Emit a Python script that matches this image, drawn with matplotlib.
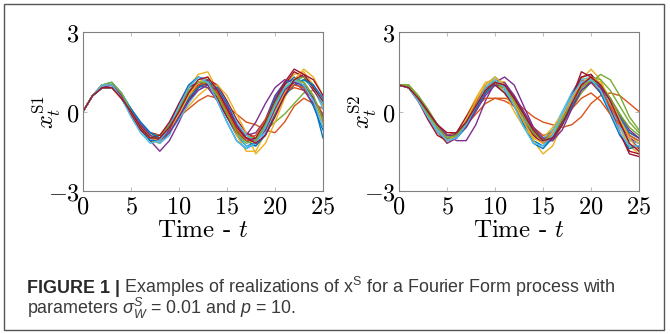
import matplotlib
matplotlib.use("Agg")
import matplotlib.pyplot as plt
from matplotlib.patches import Rectangle

plt.rcParams['mathtext.fontset'] = 'cm'
plt.rcParams['mathtext.rm'] = 'Liberation Sans'
plt.rcParams['mathtext.it'] = 'Liberation Sans:italic'

# MATLAB default line colours
colors = ["#0072BD", "#D95319", "#EDB120", "#7E2F8E", "#77AC30", "#4DBEEE", "#A2142F"]

time = list(range(26))

# realizations of x^S1
s1 = [
    [0, .6, 1.0, 1.1, .7, .1, -.5, -1.0, -1.2, -.8, .1, .9, 1.3, 1.2, .6, -.2, -.9, -1.3, -1.2, -.5, .3, 1.0, 1.3, 1.1, .4, -1.0],
    [0, .6, .9, .9, .5, 0, -.5, -.8, -.9, -.6, -.2, .1, .4, .6, .5, .2, -.1, -.4, -.5, -.7, -.8, -.4, .2, .5, .3, .1],
    [0, .6, .9, 1.0, .5, -.1, -.7, -1.1, -1.2, -.7, .2, .9, 1.4, 1.5, .8, -.1, -.9, -1.5, -1.5, -.8, .2, 1.0, 1.4, 1.5, 1.0, .2],
    [0, .6, .9, .9, .6, 0, -.6, -1.1, -1.5, -1.1, -.4, .4, 1.0, 1.1, .7, .1, -.6, -.9, -.8, -.3, .6, 1.1, 1.2, .9, .5, -.3],
    [0, .6, 1.0, 1.0, .6, 0, -.5, -.9, -1.0, -.6, 0, .5, .9, 1.0, .7, .1, -.5, -.9, -1.0, -.7, -.4, -.1, .3, .7, .8, .4],
    [0, .6, 1.0, 1.1, .7, .1, -.5, -1.0, -1.2, -.9, -.1, .7, 1.1, 1.2, .8, 0, -.8, -1.3, -1.3, -.8, 0, .8, 1.2, 1.3, .9, .1],
    [0, .6, .9, .9, .5, 0, -.5, -.8, -.9, -.7, -.2, .4, .9, 1.2, 1.0, .4, -.3, -.8, -1.0, -.7, .2, 1.0, 1.5, 1.3, .8, .3],
    [0, .6, 1.0, 1.0, .6, -.1, -.7, -1.1, -1.1, -.5, .3, 1.0, 1.3, 1.1, .4, -.4, -1.1, -1.4, -1.2, -.4, .5, 1.1, 1.2, .9, .2, -.7],
    [0, .6, .9, .9, .5, 0, -.5, -.9, -1.0, -.6, .1, .6, 1.0, 1.0, .5, -.1, -.7, -1.0, -.9, -.3, .3, .7, .9, .8, .5, -.2],
    [0, .6, .9, .9, .5, -.1, -.6, -.9, -.9, -.6, -.2, .2, .6, .9, 1.0, .6, -.1, -.8, -1.6, -1.2, -.4, .5, 1.2, 1.6, 1.3, .6],
    [0, .6, 1.0, 1.0, .6, 0, -.6, -1.0, -1.1, -.7, .1, .8, 1.0, .9, .4, -.2, -.8, -.9, -.4, .3, .9, 1.2, 1.1, .8, .3, -.4],
    [0, .6, .9, 1.0, .6, 0, -.6, -.9, -.9, -.5, .1, .7, 1.1, 1.1, .6, -.1, -.7, -1.0, -1.0, -.6, .1, .8, 1.2, 1.3, 1.0, .3],
    [0, .6, .9, 1.0, .7, .1, -.4, -.8, -1.0, -.8, -.3, .3, .8, 1.0, .9, .3, -.4, -.9, -1.1, -.8, -.1, .6, 1.1, 1.2, .9, .3],
    [0, .6, 1.0, 1.0, .5, -.1, -.7, -1.0, -.9, -.4, .3, .9, 1.1, 1.0, .5, -.2, -.8, -1.1, -1.0, -.4, .4, 1.1, 1.6, 1.4, .9, .4],
    [0, .6, .9, .9, .6, .1, -.4, -.8, -1.0, -.8, -.2, .5, .9, 1.1, .9, .3, -.5, -1.1, -1.3, -.9, -.1, .6, 1.0, 1.2, 1.0, .5],
    [0, .6, 1.0, 1.0, .6, 0, -.6, -1.0, -1.0, -.6, 0, .6, 1.0, 1.1, .7, 0, -.7, -1.1, -1.1, -.6, .1, .7, 1.0, .9, .5, -.1],
    [0, .6, 1.0, 1.0, .6, 0, -.6, -1.0, -1.1, -.8, -.1, .6, 1.1, 1.3, .8, .1, -.6, -1.0, -1.1, -.7, 0, .7, 1.1, 1.1, .6, -.5],
    [0, .6, .9, 1.0, .6, 0, -.5, -.9, -1.1, -.8, -.2, .4, .8, 1.0, .8, .2, -.5, -1.0, -1.1, -.7, .1, .8, 1.1, 1.0, .5, -.2],
    [0, .6, 1.0, 1.1, .7, 0, -.6, -1.0, -1.0, -.6, .1, .8, 1.1, 1.1, .6, -.1, -.8, -1.2, -1.1, -.5, .3, .9, 1.2, 1.1, .6, -.3],
    [0, .6, 1.0, 1.0, .5, -.2, -.8, -1.2, -1.1, -.6, .2, .9, 1.3, 1.1, .4, -.4, -1.1, -1.4, -1.2, -.6, .2, .9, 1.2, 1.0, .4, -.6],
    [0, .6, .9, .9, .5, 0, -.6, -1.0, -1.0, -.6, 0, .7, 1.2, 1.3, .8, .1, -.6, -1.0, -1.2, -.9, -.2, .6, 1.2, 1.4, 1.2, .6],
]

# realizations of x^S2
s2 = [
    [1, .9, .5, -.1, -.7, -1.1, -1.0, -.5, .3, 1.0, 1.3, 1.0, .4, -.4, -1.1, -1.3, -1.0, -.2, .7, 1.3, 1.4, 1.0, .2, -.6, -1.3, -1.4],
    [1, .9, .4, -.2, -.6, -.9, -.8, -.5, -.1, .3, .5, .5, .4, .1, -.2, -.4, -.5, -.6, -.5, -.2, .3, .6, .7, .6, .3, 0],
    [1, .9, .4, -.2, -.8, -1.2, -1.0, -.4, .3, .9, 1.2, 1.1, .5, -.3, -1.1, -1.6, -1.3, -.5, .5, 1.2, 1.6, 1.2, .3, -.6, -1.3, -1.6],
    [1, .9, .5, 0, -.5, -.9, -1.1, -1.1, -.5, .4, 1.1, 1.3, 1.0, .2, -.6, -1.1, -1.1, -.5, .4, 1.2, 1.1, .7, .1, -.5, -1.0, -1.2],
    [1, 1.0, .6, 0, -.6, -1.0, -.8, -.3, .3, .8, 1.0, .8, .2, -.4, -.9, -1.0, -.7, -.1, .5, 1.0, 1.3, 1.2, .8, .2, -.4, -.8],
    [1, .9, .4, -.2, -.8, -1.1, -.9, -.3, .4, .9, 1.1, .8, .2, -.5, -1.0, -1.1, -.7, 0, .7, 1.2, 1.3, .9, .2, -.6, -1.1, -1.2],
    [1, .9, .5, -.1, -.7, -1.0, -.9, -.4, .2, .8, 1.0, .9, .4, -.2, -.8, -1.1, -.9, -.3, .5, 1.5, 1.3, .7, 0, -.8, -1.5, -1.6],
    [1, .9, .5, -.1, -.6, -1.0, -.9, -.5, .2, .9, 1.2, .9, .3, -.5, -1.2, -1.4, -1.0, -.2, .6, 1.1, 1.2, .7, -.1, -.9, -1.4, -1.3],
    [1, .9, .5, 0, -.5, -.9, -.8, -.3, .2, .5, .5, .4, .2, -.2, -.6, -.9, -.8, -.4, .1, .5, .7, .4, -.1, -.5, -.8, -1.0],
    [1, .9, .5, 0, -.6, -1.0, -.8, -.2, .5, 1.1, 1.2, .7, 0, -.6, -1.0, -1.0, -.6, -.1, .4, .9, 1.1, 1.0, .5, -.2, -.9, -1.2],
    [1, .9, .5, -.1, -.7, -1.2, -1.0, -.5, .1, .7, 1.0, 1.1, .6, -.1, -.7, -1.0, -1.0, -.4, .3, .9, 1.2, 1.0, .5, -.3, -1.0, -1.4],
    [1, 1.0, .6, .1, -.5, -.9, -.9, -.5, .1, .7, 1.0, .9, .4, -.2, -.7, -1.0, -.9, -.5, .1, .7, 1.1, 1.4, 1.2, .6, -.2, -.7],
    [1, .9, .4, -.2, -.7, -1.0, -.8, -.3, .3, .8, 1.0, .7, .2, -.3, -.8, -1.0, -.8, -.3, .4, .9, 1.2, 1.0, .4, -.3, -.9, -1.1],
    [1, .9, .4, -.3, -.9, -1.1, -.8, -.2, .4, .9, 1.0, .7, .2, -.4, -.9, -1.2, -1.0, -.3, .6, 1.3, 1.4, .9, .1, -.8, -1.6, -1.7],
    [1, .9, .5, 0, -.6, -1.0, -1.0, -.6, .1, .7, 1.1, 1.0, .5, -.2, -.8, -1.1, -1.0, -.5, .2, .8, 1.1, 1.0, .5, -.2, -.8, -1.0],
    [1, .9, .5, 0, -.6, -1.0, -.9, -.4, .3, .9, 1.1, .9, .4, -.2, -.8, -1.1, -.8, -.2, .5, 1.0, 1.1, .8, .2, -.4, -.9, -1.1],
    [1, .9, .5, -.1, -.7, -1.1, -.9, -.3, .4, 1.0, 1.3, 1.0, .3, -.4, -1.0, -1.2, -.8, -.2, .5, 1.1, 1.3, 1.1, .5, -.3, -1.0, -1.5],
    [1, .9, .5, 0, -.5, -.9, -.9, -.6, 0, .6, 1.0, 1.0, .6, 0, -.6, -1.0, -1.1, -.7, .1, .8, 1.1, .9, .5, -.1, -.7, -1.0],
    [1, 1.0, .5, -.1, -.6, -1.0, -.9, -.4, .2, .8, 1.1, .9, .4, -.2, -.8, -1.1, -.9, -.3, .3, .9, 1.2, 1.0, .5, -.1, -.6, -.9],
    [1, .9, .4, -.2, -.7, -1.1, -1.0, -.5, .2, .9, 1.2, .9, .2, -.6, -1.2, -1.3, -.9, -.1, .6, 1.1, 1.2, .8, 0, -.8, -1.3, -1.3],
    [1, .9, .5, 0, -.5, -.8, -.8, -.4, .2, .8, 1.1, 1.0, .5, -.1, -.7, -1.1, -1.0, -.5, .3, 1.0, 1.3, 1.0, .4, -.4, -1.2, -1.5],
]

panels = [(s1, r"$x_t^{\mathrm{S1}}$"), (s2, r"$x_t^{\mathrm{S2}}$")]
xticks = [0, 5, 10, 15, 20, 25]
yticks = [-3, 0, 3]

fig = plt.figure(figsize=(6.7, 3.34), dpi=100)
fig.patches.append(Rectangle((4 / 670, 4 / 334), 660 / 670, 326 / 334, transform=fig.transFigure,
                             fill=False, edgecolor="#555555", linewidth=1.0))

lefts = [83 / 670, 399 / 670]
for left, (series, ylab) in zip(lefts, panels):
    ax = fig.add_axes([left, 143 / 334, 240 / 670, 159 / 334])
    for i, vals in enumerate(series):
        ax.plot(time, vals, color=colors[i % 7], linewidth=1.0)
    ax.set_xlim(0, 25)
    ax.set_ylim(-3, 3)
    ax.set_xticks(xticks)
    ax.set_xticklabels(["$%d$" % v for v in xticks])
    ax.set_yticks(yticks)
    ax.set_yticklabels(["$%d$" % v for v in yticks])
    ax.tick_params(direction="in", length=3, width=0.6, colors="#b0b0b0", labelcolor="black",
                   labelsize=17.5, top=True, right=True, pad=2.5)
    for sp in ax.spines.values():
        sp.set_color("#808080")
        sp.set_linewidth(0.8)
    ax.set_xlabel("Time - $t$", fontfamily="cmr10", fontsize=18, labelpad=1)
    ax.set_ylabel(ylab, fontsize=17.5)
    ax.yaxis.set_label_coords(-0.085, 0.5)

# caption
renderer = fig.canvas.get_renderer()
cap_kw = dict(fontfamily="Liberation Sans", fontsize=12.9, color="#3a3a3a", va="baseline",
              math_fontfamily="custom")
y1 = (334 - 293) / 334
y2 = (334 - 314) / 334
t1 = fig.text(27 / 670, y1, "FIGURE 1 |", fontweight="bold", color="#2a2a2a",
              **{k: v for k, v in cap_kw.items() if k != "color"})
bb = t1.get_window_extent(renderer)
fig.text(bb.x1 / 670, y1, r" Examples of realizations of x$^{\mathrm{S}}$ for a Fourier Form process with",
         **cap_kw)
fig.text(27 / 670, y2, r"parameters $\sigma_W^S$ = 0.01 and $p$ = 10.", **cap_kw)

fig.savefig("out.png", dpi=100)
